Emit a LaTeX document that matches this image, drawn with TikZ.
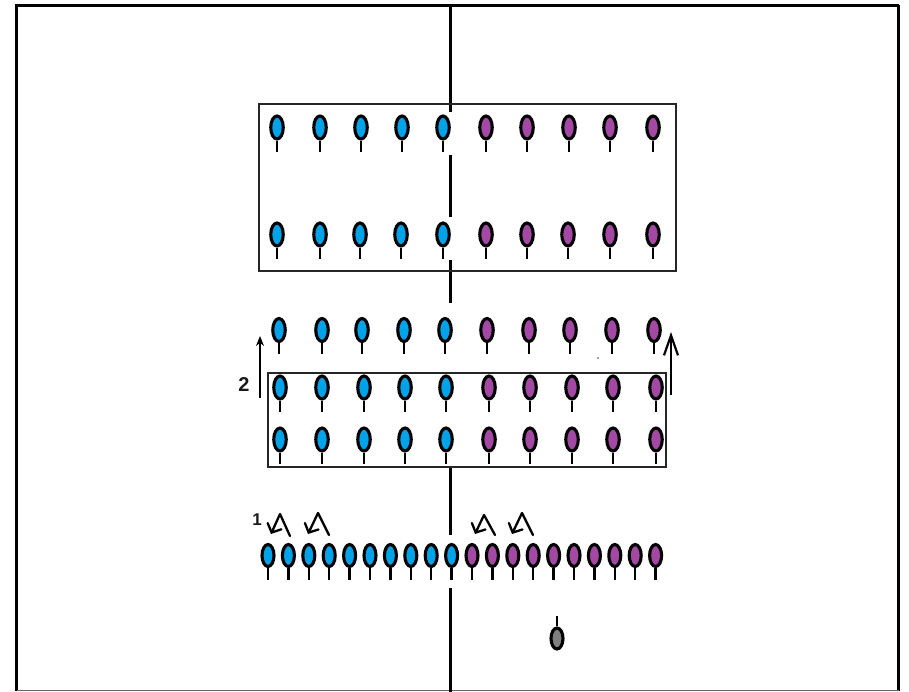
\documentclass[tikz,border=0pt]{standalone}
\usepackage{fontspec}
\setmainfont{Liberation Sans}
\usetikzlibrary{shapes.geometric,arrows.meta}
\definecolor{pblue}{RGB}{0,162,232}
\definecolor{ppurple}{RGB}{163,73,164}
\definecolor{pgray}{RGB}{127,127,127}
\tikzset{
 fig/.style={ellipse, draw=black, line width=3.1pt, minimum width=12.5pt, minimum height=23pt, inner sep=0pt},
 smallfig/.style={fig, minimum width=12pt, minimum height=22pt},
 stem/.style={line width=2.4pt},
 box/.style={draw=black!85, line width=1.1pt},
 axis/.style={line width=2.3pt},
 hook/.style={line width=2.3pt, line join=round, line cap=round, -{Straight Barb[length=7pt,width=15pt, line cap=round]}},
 lab/.style={font=\bfseries\fontsize{20}{20}\selectfont, inner sep=0pt, text=black!90}
}
\newcommand\figrow[3]{%
  \foreach \x [count=\i] in {#3} {
    \ifnum\i<6 \def\cc{pblue}\else\def\cc{ppurple}\fi
    \node[fig, fill=\cc] (#1-\i) at (\x,#2) {};
    \draw[stem] (#1-\i.south) -- ++(0,11);
  }%
}
\begin{document}
\begin{tikzpicture}[x=1pt,y=-1pt]
\useasboundingbox (0,0) rectangle (909,692);
\fill[white] (0,0) rectangle (909,692);
% frame
\coordinate (ftl) at (16.5,5.5);
\coordinate (ftr) at (898.5,5.5);
\coordinate (fbl) at (16.5,690.8);
\coordinate (fbr) at (898.5,690.8);
\draw[line width=3pt] (fbl) -- (ftl) -- (ftr);
\draw[line width=2.5pt] (ftr) -- (fbr);
\draw[line width=1pt, black!60] (fbl) -- (fbr);
% centre line
\foreach \a/\b [count=\k] in {5/112, 155/217, 260/303, 467/535, 588/692} {
  \coordinate (ca\k) at (450.5,\a);
  \coordinate (cb\k) at (450.5,\b);
  \draw[axis] (ca\k) -- (cb\k);
}
% boxes
\node[box, minimum width=417pt, minimum height=167pt, inner sep=0pt] (topbox) at (467.5,187.5) {};
\node[box, minimum width=398pt, minimum height=94pt, inner sep=0pt] (midbox) at (467,420) {};
% rows
\figrow{ra}{127.5}{277,320,361,402,443,486,527,569,610,653}
\figrow{rb}{234.5}{277,320,360,401,443,486,527,568,610,653}
\figrow{rc}{330}{279,322,362,404,445,487,529,570,612,654}
\figrow{rd}{387.5}{280,322,364,405,446,489,530,572,613,656}
\figrow{re}{439.5}{280,322,364,405,446,489,530,572,613,656}
% bottom line of figures
\foreach \i in {1,...,20} {
  \ifnum\i<11 \def\cc{pblue}\else\def\cc{ppurple}\fi
  \pgfmathsetmacro\xx{268+20.4*(\i-1)}
  \node[smallfig, fill=\cc] (bt-\i) at (\xx,555.5) {};
  \draw[stem] (bt-\i.south) -- ++(0,11.5);
}
% gray figure
\node[smallfig, fill=pgray, minimum height=21pt] (gfig) at (557,638.5) {};
\draw[stem] (gfig.north) -- ++(0,-10);
% arrows 2
\coordinate (l2a) at (260,398);
\coordinate (l2b) at (260,336);
\draw[line width=2.2pt, -{Stealth[length=10pt,width=8pt]}] (l2a) -- (l2b);
\node[lab] (two) at (244,385) {2};
\coordinate (r2a) at (671,395);
\coordinate (r2b) at (671,332);
\draw[line width=2.2pt, -{Straight Barb[length=20pt,width=14pt]}, line join=miter] (r2a) -- (r2b);
% arrows 1
\node[lab, font=\bfseries\fontsize{17}{17}\selectfont] (one) at (257,520) {1};
\foreach \s/\p/\e [count=\k] in {{290,536}/{280,514}/{271,534}, {329,535}/{318,513}/{308,534}, {495,535}/{484,515}/{475,534}, {533,535}/{522,513}/{512,534}} {
  \coordinate (hs\k) at (\s);
  \coordinate (hp\k) at (\p);
  \coordinate (he\k) at (\e);
  \draw[hook] (hs\k) -- (hp\k) -- (he\k);
}
% tiny speck
\coordinate (speck) at (598,358);
\fill[black!70] (speck) circle (0.8pt);
\end{tikzpicture}
\end{document}
